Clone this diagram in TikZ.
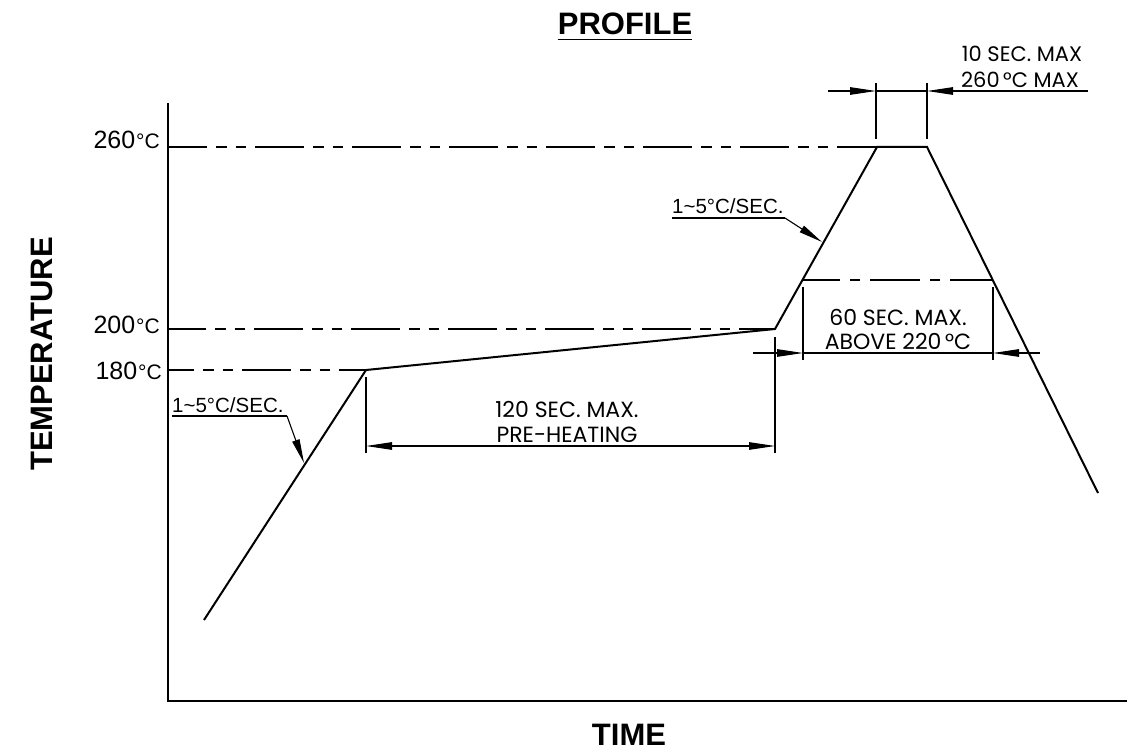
\documentclass[tikz,border=0pt]{standalone}
\usepackage{fontspec}
\setmainfont{Liberation Sans}
\newfontfamily\gothic{Poppins}
\usetikzlibrary{arrows.meta}
\tikzset{
  x=1pt,y=-1pt,
  prof/.style={line width=2pt,line join=miter},
  axis/.style={line width=2.2pt},
  thin/.style={line width=1.1pt},
  cline/.style={line width=2pt,dash pattern=on 49pt off 9pt on 10.5pt off 9pt on 10.5pt off 9pt},
  dimtip/.style={thin,-{Triangle[length=26pt,width=7.5pt]}},
  dimboth/.style={thin,{Triangle[length=26pt,width=7.5pt]}-{Triangle[length=26pt,width=7.5pt]}},
  lbl/.style={inner sep=0pt,font=\fontsize{25}{25}\selectfont},
  rate/.style={inner sep=0pt,font=\fontsize{20.5}{20.5}\selectfont},
  dimtxt/.style={inner sep=0pt,font=\gothic\fontsize{22}{22}\selectfont},
  smalltxt/.style={inner sep=0pt,font=\gothic\fontsize{21}{21}\selectfont},
  big/.style={inner sep=0pt,font=\bfseries\fontsize{31}{31}\selectfont}
}
\newcommand{\degc}{\kern1pt{\fontsize{21}{21}\selectfont °C}}
\begin{document}
\begin{tikzpicture}
\useasboundingbox (0,0) rectangle (1127,751);
% coordinates
\coordinate (o) at (168,701);
\coordinate (ytop) at (168,103);
\coordinate (xend) at (1127,701);
\coordinate (p0) at (204,620);
\coordinate (p1) at (366,370);
\coordinate (p2) at (775,329);
\coordinate (p3) at (877,147);
\coordinate (p4) at (927,147);
\coordinate (p5) at (1098,493);
\coordinate (y260) at (168,147);
\coordinate (y200) at (168,329);
\coordinate (y180) at (168,370);
\coordinate (a220) at (803,280);
\coordinate (b220) at (993,280);
% axes
\draw[axis] (ytop) -- (o) -- (xend);
% dashed level lines
\draw[cline,dash phase=10pt] (y260) -- (p3);
\draw[cline,dash phase=11pt] (y200) -- (p2);
\draw[cline,dash phase=23pt] (y180) -- (p1);
\draw[line width=2pt,dash pattern=on 50pt off 10pt on 10pt off 10pt,dash phase=13pt] (a220) -- (b220);
% profile
\draw[prof] (p0) -- (p1) -- (p2) -- (p3) -- (p4) -- (p5);
% level labels
\node[lbl,anchor=base east] (t260) at (160,149) {260\degc};
\node[lbl,anchor=base east] (t200) at (160,334) {200\degc};
\node[lbl,anchor=base east] (t180) at (162,379) {180\degc};
% 120 sec dimension
\coordinate (e1a) at (366,377); \coordinate (e1b) at (366,453);
\coordinate (e2a) at (775,337); \coordinate (e2b) at (775,453);
\draw[thin] (e1a) -- (e1b);
\draw[thin] (e2a) -- (e2b);
\coordinate (d1a) at (366,446); \coordinate (d1b) at (775,446);
\draw[dimboth] (d1a) -- (d1b);
\node[dimtxt,anchor=base] (t120) at (567,417) {120 SEC. MAX.};
\node[dimtxt,anchor=base] (tpre) at (567,442) {PRE-HEATING};
% 60 sec dimension
\coordinate (e3a) at (803,287); \coordinate (e3b) at (803,360);
\coordinate (e4a) at (993,287); \coordinate (e4b) at (993,360);
\draw[thin] (e3a) -- (e3b);
\draw[thin] (e4a) -- (e4b);
\coordinate (d2l) at (753,353); \coordinate (d2a) at (803,353);
\coordinate (d2b) at (993,353); \coordinate (d2r) at (1040,353);
\draw[thin] (d2a) -- (d2b);
\draw[dimtip] (d2l) -- (d2a);
\draw[dimtip] (d2r) -- (d2b);
\node[dimtxt,anchor=base] (t60) at (898,325) {60 SEC. MAX.};
\node[dimtxt,anchor=base] (tab) at (898,349) {ABOVE 220\,°C};
% 10 sec dimension
\coordinate (e5a) at (876,83); \coordinate (e5b) at (876,139);
\coordinate (e6a) at (927,83); \coordinate (e6b) at (927,139);
\draw[thin] (e5a) -- (e5b);
\draw[thin] (e6a) -- (e6b);
\coordinate (d3l) at (828,91); \coordinate (d3a) at (876,91);
\coordinate (d3b) at (927,91); \coordinate (d3r) at (1088,91);
\draw[thin] (d3a) -- (d3b);
\draw[dimtip] (d3l) -- (d3a);
\draw[dimtip] (d3r) -- (d3b);
\node[smalltxt,anchor=base] (t10) at (1022,62) {10 SEC. MAX};
\node[smalltxt,anchor=base] (t260m) at (1020,88) {260\,°C MAX};
% rate labels
\node[rate,anchor=base west] (r1) at (672,214) {1\textasciitilde 5°C/SEC.};
\coordinate (u1a) at (672,218); \coordinate (u1b) at (785,218);
\coordinate (u1t) at (822,242);
\draw[thin] (u1a) -- (u1b);
\draw[thin,-{Triangle[length=24pt,width=7.5pt]}] (u1b) -- (u1t);
\node[rate,anchor=base west] (r2) at (172,412) {1\textasciitilde 5°C/SEC.};
\coordinate (u2a) at (172,416); \coordinate (u2b) at (287,416);
\coordinate (u2t) at (304,463);
\draw[thin] (u2a) -- (u2b);
\draw[thin,-{Triangle[length=24pt,width=7.5pt]}] (u2b) -- (u2t);
% titles
\node[big,anchor=base] (prof) at (625,35) {PROFILE};
\draw[line width=1.6pt] ([yshift=-4.5pt]prof.base west) -- ([yshift=-4.5pt]prof.base east);
\node[big,anchor=base] (time) at (629,745) {TIME};
\node[big,rotate=90,anchor=base] (temp) at (52,354) {TEMPERATURE};
\end{tikzpicture}
\end{document}
